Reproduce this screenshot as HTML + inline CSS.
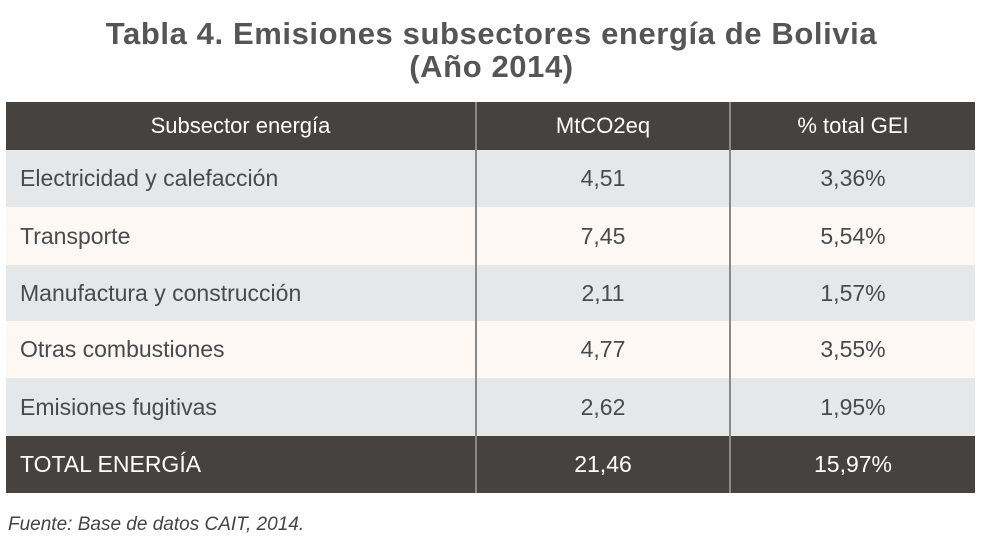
<!DOCTYPE html>
<html><head><meta charset="utf-8"><style>
body{margin:0;width:983px;height:553px;background:#fff;font-family:"Liberation Sans","DejaVu Sans",sans-serif;position:relative;overflow:hidden}
.t{position:absolute;left:0;width:983px;text-align:center;font-weight:bold;font-size:31px;letter-spacing:0.6px;color:#555;line-height:32px}
.r{position:absolute;left:6px;width:969px}
.c{position:absolute;top:0;height:100%;display:flex;align-items:center;font-size:23px;color:#4a4a4a}
.c1{left:0;width:469px;padding-left:14px;box-sizing:border-box}
.c2{left:469px;width:254px;justify-content:center;border-left:2px solid #8a8a8a;box-sizing:border-box}
.c3{left:723px;width:246px;justify-content:center;border-left:2px solid #8a8a8a;box-sizing:border-box}
.d{background:#454240}.d .c{color:#fff}
.h .c{font-size:22px}
.g{background:#e6e7e9}.w{background:#fdf8f4}
</style></head><body>
<div class="t" style="top:18px">Tabla 4. Emisiones subsectores energía de Bolivia</div>
<div class="t" style="top:51px">(Año 2014)</div>
<div class="r d h" style="top:102px;height:48px"><div class="c c1" style="justify-content:center;padding:0">Subsector energía</div><div class="c c2">MtCO2eq</div><div class="c c3">% total GEI</div></div>
<div class="r g" style="top:150px;height:57px"><div class="c c1">Electricidad y calefacción</div><div class="c c2">4,51</div><div class="c c3">3,36%</div></div>
<div class="r w" style="top:207px;height:58px"><div class="c c1">Transporte</div><div class="c c2">7,45</div><div class="c c3">5,54%</div></div>
<div class="r g" style="top:265px;height:56px"><div class="c c1">Manufactura y construcción</div><div class="c c2">2,11</div><div class="c c3">1,57%</div></div>
<div class="r w" style="top:321px;height:57px"><div class="c c1">Otras combustiones</div><div class="c c2">4,77</div><div class="c c3">3,55%</div></div>
<div class="r g" style="top:378px;height:58px"><div class="c c1">Emisiones fugitivas</div><div class="c c2">2,62</div><div class="c c3">1,95%</div></div>
<div class="r d" style="top:436px;height:57px"><div class="c c1">TOTAL ENERGÍA</div><div class="c c2">21,46</div><div class="c c3">15,97%</div></div>
<div style="position:absolute;left:8px;top:514px;font-style:italic;font-size:19px;color:#444">Fuente: Base de datos CAIT, 2014.</div>
</body></html>
